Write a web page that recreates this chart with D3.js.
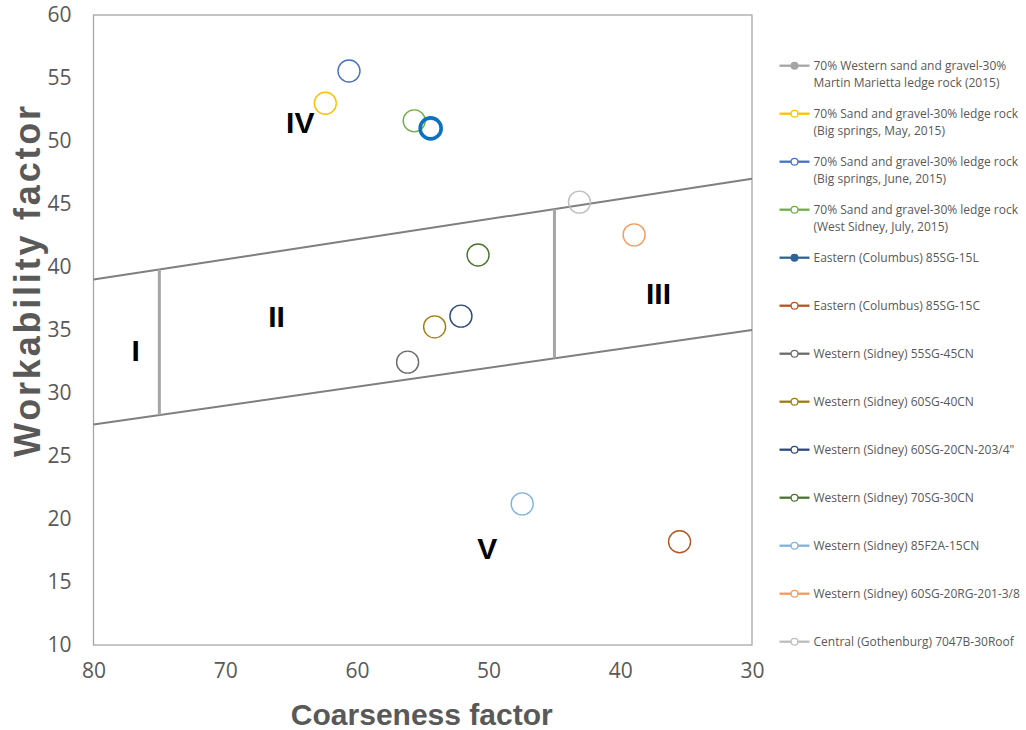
<!DOCTYPE html>
<html>
<head>
<meta charset="utf-8">
<script src="https://cdn.jsdelivr.net/npm/d3@7"></script>
<style>
  html, body { margin: 0; padding: 0; background: #fff; }
  svg { display: block; }
</style>
</head>
<body>
<svg id="chart" width="1026" height="730"></svg>
<script>
// Mixture series (legend order)
const seriesNames = [
  ["70% Western sand and gravel-30%", "Martin Marietta ledge rock (2015)"],
  ["70% Sand and gravel-30% ledge rock", "(Big springs, May, 2015)"],
  ["70% Sand and gravel-30% ledge rock", "(Big springs, June, 2015)"],
  ["70% Sand and gravel-30% ledge rock", "(West Sidney, July, 2015)"],
  ["Eastern (Columbus) 85SG-15L"],
  ["Eastern (Columbus) 85SG-15C"],
  ["Western (Sidney) 55SG-45CN"],
  ["Western (Sidney) 60SG-40CN"],
  ["Western (Sidney) 60SG-20CN-203/4\""],
  ["Western (Sidney) 70SG-30CN"],
  ["Western (Sidney) 85F2A-15CN"],
  ["Western (Sidney) 60SG-20RG-201-3/8"],
  ["Central (Gothenburg) 7047B-30Roof"]
];
// Coarseness factor and workability factor of each mixture (null = not plotted)
const coarseness  = [null, 62.4, 60.6, 55.65, 54.4, 35.5, 56.15, 54.1, 52.1, 50.8, 47.45, 38.95, 43.1];
const workability = [null, 53.0, 55.55, 51.6, 51.0, 18.2, 32.45, 35.25, 36.1, 40.95, 21.2, 42.55, 45.15];

// Zone boundaries: [coarseness, workability]
const upperBoundary = [[80, 39], [30, 47]];
const lowerBoundary = [[80, 27.5], [30, 35]];
const zoneDividers = [
  [[75, 28.25], [75, 39.8]],
  [[45, 32.75], [45, 44.6]]
];
// Zone labels
const zoneNames = ["I", "II", "III", "IV", "V"];
const zoneX = [76.8, 66.1, 37.1, 64.3, 50.1];
const zoneY = [33.4, 36.1, 37.9, 51.5, 17.7];

// Axis ticks
const xTicks = [80, 70, 60, 50, 40, 30];
const yTicks = [10, 15, 20, 25, 30, 35, 40, 45, 50, 55, 60];

// Styling
const seriesColors = ["#a5a5a5", "#ffc000", "#4472c4", "#70ad47", "#2e6398", "#b5561f",
                      "#6b6b6b", "#a07b0a", "#2a4a80", "#4b7431", "#7fb2e0", "#f39a5c", "#bdbdbd"];
const markerColors = ["#a5a5a5", "#ffc000", "#4472c4", "#70ad47", "#0a72c2", "#b5561f",
                      "#6b6b6b", "#a07b0a", "#2a4a80", "#4b7431", "#7fb2e0", "#f39a5c", "#bdbdbd"];
const filledMarker = [true, false, false, false, true, false, false, false, false, false, false, false, false];

const svg = d3.select("#chart");
const plot = { left: 93.5, right: 752, top: 15, bottom: 645 };

const x = d3.scaleLinear().domain([80, 30]).range([plot.left, plot.right]);
const y = d3.scaleLinear().domain([10, 60]).range([plot.bottom, plot.top]);

const textGray = "#595959";
const tickFont = "'Open Sans', sans-serif";

// Plot frame
svg.append("rect")
  .attr("x", plot.left).attr("y", plot.top)
  .attr("width", plot.right - plot.left).attr("height", plot.bottom - plot.top)
  .attr("fill", "none").attr("stroke", "#a6a6a6").attr("stroke-width", 1.3);

// Y axis labels
const yAxis = d3.axisLeft(y).tickValues(yTicks).tickSize(0).tickPadding(22);
svg.append("g").attr("transform", `translate(${plot.left},0)`).call(yAxis)
  .call(g => g.select(".domain").remove())
  .call(g => g.selectAll("text").attr("fill", textGray)
    .style("font-family", tickFont).style("font-size", "21px"));

// X axis labels
const xAxis = d3.axisBottom(x).tickValues(xTicks).tickSize(0).tickPadding(18);
svg.append("g").attr("transform", `translate(0,${plot.bottom})`).call(xAxis)
  .call(g => g.select(".domain").remove())
  .call(g => g.selectAll("text").attr("fill", textGray)
    .style("font-family", tickFont).style("font-size", "21px"));

// Axis titles
svg.append("text")
  .attr("x", (plot.left + plot.right) / 2 - 1).attr("y", 725)
  .attr("text-anchor", "middle")
  .attr("fill", textGray)
  .style("font-family", "'Liberation Sans', Arial, sans-serif")
  .style("font-weight", "bold").style("font-size", "30px")
  .text("Coarseness factor");

svg.append("text")
  .attr("transform", `translate(40,280) rotate(-90)`)
  .attr("text-anchor", "middle")
  .attr("fill", textGray)
  .style("font-family", "'Liberation Sans', Arial, sans-serif")
  .style("font-weight", "bold").style("font-size", "36px")
  .style("letter-spacing", "2.8px")
  .text("Workability factor");

// Zone boundaries
const line = d3.line().x(d => x(d[0])).y(d => y(d[1]));
[upperBoundary, lowerBoundary].forEach(b => {
  svg.append("path").attr("d", line(b))
    .attr("fill", "none").attr("stroke", "#7f7f7f").attr("stroke-width", 2);
});
zoneDividers.forEach(b => {
  svg.append("path").attr("d", line(b))
    .attr("fill", "none").attr("stroke", "#a6a6a6").attr("stroke-width", 3);
});

// Zone labels
svg.append("g").selectAll("text").data(zoneNames).join("text")
  .attr("x", (d, i) => x(zoneX[i]))
  .attr("y", (d, i) => y(zoneY[i]))
  .attr("dy", "0.36em")
  .attr("text-anchor", "middle")
  .attr("fill", "#000")
  .style("font-family", "'Liberation Sans', Arial, sans-serif")
  .style("font-weight", "bold").style("font-size", "30px")
  .text(d => d);

// Mixture points
const pts = d3.range(seriesNames.length).filter(i => coarseness[i] != null);
svg.append("g").selectAll("circle").data(pts).join("circle")
  .attr("cx", i => x(coarseness[i]))
  .attr("cy", i => y(workability[i]))
  .attr("r", i => filledMarker[i] ? 10.5 : 11)
  .attr("fill", "none")
  .attr("stroke", i => markerColors[i])
  .attr("stroke-width", i => filledMarker[i] ? 3.6 : 1.4);

// Legend
const legend = svg.append("g");
const rowStart = 65.7, rowStep = 48.0;
seriesNames.forEach((lines, i) => {
  const cy = rowStart + i * rowStep;
  legend.append("line")
    .attr("x1", 779.5).attr("x2", 809.5).attr("y1", cy).attr("y2", cy)
    .attr("stroke", seriesColors[i]).attr("stroke-width", 2.3);
  legend.append("circle")
    .attr("cx", 794.5).attr("cy", cy).attr("r", 3.4)
    .attr("fill", filledMarker[i] ? seriesColors[i] : "#fff")
    .attr("stroke", seriesColors[i]).attr("stroke-width", 1.2);
  const t = legend.append("text")
    .attr("x", 813.5).attr("y", cy)
    .attr("fill", textGray)
    .style("font-family", tickFont).style("font-size", "12px");
  lines.forEach((s, k) => {
    t.append("tspan").attr("x", 813.5).attr("y", cy + k * 16.6).attr("dy", "0.35em").text(s);
  });
});
</script>
</body>
</html>
